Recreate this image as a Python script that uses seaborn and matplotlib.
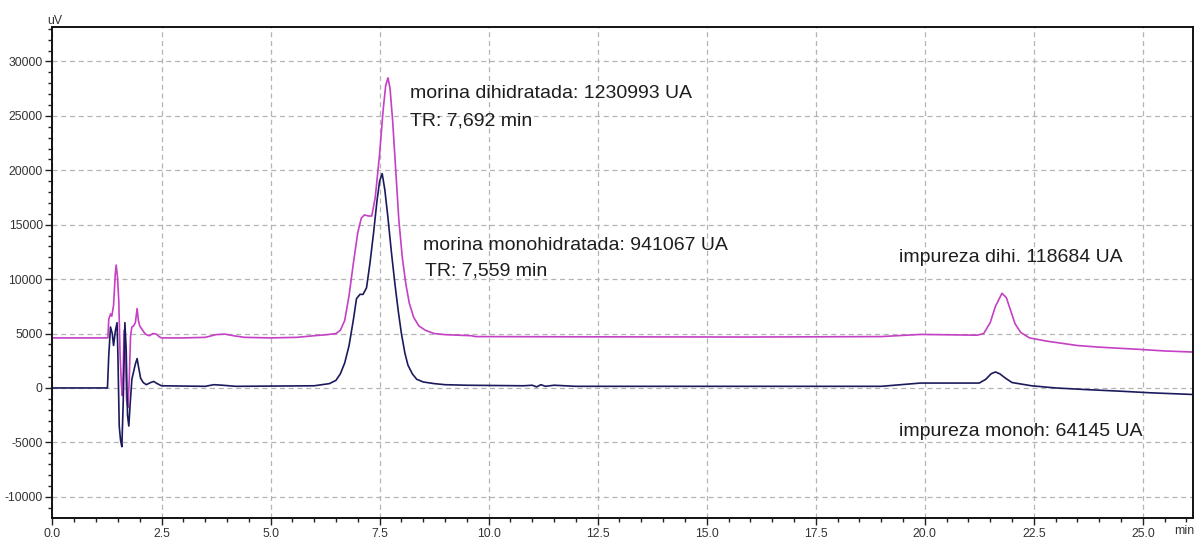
import numpy as np
import pandas as pd
import matplotlib
matplotlib.use("Agg")
import matplotlib.pyplot as plt
from matplotlib.ticker import MultipleLocator, FixedLocator
import seaborn as sns

# Chromatogram traces: retention time (min) and detector signal (uV)
dihidratada_t = [
    0.0, 1.27, 1.29, 1.33, 1.36, 1.40, 1.44, 1.46, 1.49, 1.52, 1.55, 1.58, 1.60,
    1.62, 1.64, 1.67, 1.70, 1.73, 1.76, 1.79, 1.82, 1.86, 1.90, 1.94, 1.97, 2.00,
    2.05, 2.10, 2.15, 2.22, 2.30, 2.38, 2.45, 2.50,
    3.0, 3.5, 3.75, 3.95, 4.15, 4.4, 5.0, 5.6, 6.0, 6.3, 6.5, 6.6, 6.7, 6.8, 6.9,
    7.0, 7.08, 7.15, 7.25, 7.32, 7.40, 7.50, 7.58, 7.64, 7.692, 7.74, 7.80, 7.87,
    7.94, 8.02, 8.10, 8.18, 8.28, 8.40, 8.55, 8.75, 9.0, 9.6, 9.7, 12.0, 16.0,
    19.0, 19.9, 21.2, 21.35, 21.5, 21.62, 21.77, 21.87, 21.97, 22.07, 22.2, 22.4,
    22.8, 23.5, 24.0, 24.9, 25.5, 26.15,
]
dihidratada_uv = [
    4600, 4600, 6300, 6800, 6600, 7600, 10500, 11300, 10200, 8000, 3000, 300, -700,
    1500, 5300, 3000, -1200, -1800, 800, 4800, 5600, 5700, 6000, 7300, 6200, 5700,
    5400, 5100, 4900, 4800, 5000, 4950, 4700, 4600,
    4600, 4650, 4900, 4950, 4800, 4650, 4600, 4650, 4800, 4900, 5000, 5300, 6200, 8500, 11500,
    14300, 15600, 15900, 15800, 15800, 17500, 21500, 25500, 27800, 28500, 27500, 24500, 20000,
    15500, 12000, 9600, 7800, 6500, 5700, 5300, 5000, 4900, 4800, 4720, 4700, 4680,
    4720, 4920, 4850, 5000, 6000, 7500, 8700, 8300, 7100, 5900, 5100, 4600,
    4300, 3900, 3750, 3550, 3400, 3300,
]

monohidratada_t = [
    0.0, 1.26, 1.29, 1.33, 1.37, 1.40, 1.44, 1.48, 1.50, 1.53, 1.56, 1.59, 1.62,
    1.66, 1.69, 1.72, 1.75, 1.78, 1.82, 1.86, 1.90, 1.94, 1.97, 2.02, 2.08, 2.15,
    2.25, 2.32, 2.40, 2.50,
    3.5, 3.7, 3.9, 4.2, 6.0, 6.35, 6.5, 6.6, 6.7, 6.8, 6.9, 6.97, 7.05, 7.12, 7.2,
    7.28, 7.36, 7.44, 7.50, 7.559, 7.62, 7.69, 7.77, 7.85, 7.93, 8.0, 8.08, 8.15,
    8.25, 8.35, 8.5, 8.75, 9.0, 9.5, 10.8, 11.0, 11.1, 11.2, 11.3, 11.5, 12.0,
    19.0, 19.9, 21.25, 21.4, 21.52, 21.62, 21.72, 21.85, 22.0, 22.45, 23.0, 23.7,
    24.5, 25.2, 26.15,
]
monohidratada_uv = [
    0, 0, 3000, 5600, 5000, 3900, 5200, 6000, 3000, -3500, -4800, -5400, -1500,
    6000, 3500, -2500, -3500, -1500, 800, 1500, 2200, 2700, 2000, 900, 500, 300,
    500, 600, 400, 200,
    150, 300, 250, 150, 200, 400, 700, 1300, 2300, 3900, 6300, 8200, 8600, 8600, 9200,
    11500, 14200, 17200, 19000, 19700, 18200, 15700, 12500, 9600, 7000, 5000, 3200, 2100,
    1300, 800, 550, 400, 300, 250, 200, 250, 100, 300, 150, 250, 150,
    150, 450, 450, 800, 1300, 1470, 1300, 900, 500, 200, 0, -150,
    -300, -450, -600,
]

# Peak annotations: (time, signal, text)
label_t = [8.19, 8.19, 8.49, 8.53, 19.40, 19.40]
label_uv = [26600, 24150, 12650, 10350, 11600, -4450]
label_text = [
    "morina dihidratada: 1230993 UA",
    "TR: 7,692 min",
    "morina monohidratada: 941067 UA",
    "TR: 7,559 min",
    "impureza dihi. 118684 UA",
    "impureza monoh: 64145 UA",
]

x_ticks = [0.0, 2.5, 5.0, 7.5, 10.0, 12.5, 15.0, 17.5, 20.0, 22.5, 25.0]
y_ticks = [-10000, -5000, 0, 5000, 10000, 15000, 20000, 25000, 30000]

sns.set_theme(style="white")
plt.rcParams["font.family"] = ["Liberation Sans", "DejaVu Sans"]

W, H = 1195, 539
fig = plt.figure(figsize=(W / 100, H / 100), dpi=100)
ax = fig.add_axes([52.5 / W, (H - 518) / H, (1193 - 52.5) / W, (518 - 27) / H])

dihi = pd.DataFrame({"t": dihidratada_t, "uv": dihidratada_uv})
mono = pd.DataFrame({"t": monohidratada_t, "uv": monohidratada_uv})

sns.lineplot(data=dihi, x="t", y="uv", ax=ax, color="#c440c4", lw=1.2,
             estimator=None, sort=False)
sns.lineplot(data=mono, x="t", y="uv", ax=ax, color="#1b1a5c", lw=1.2,
             estimator=None, sort=False)

ax.set_xlim(0, 26.15)
ax.set_ylim(-11950, 33170)
ax.set_xlabel("")
ax.set_ylabel("")

ax.xaxis.set_major_locator(FixedLocator(x_ticks))
ax.yaxis.set_major_locator(FixedLocator(y_ticks))
ax.set_xticklabels([f"{v:.1f}" for v in x_ticks])
ax.set_yticklabels([f"{v:d}" for v in y_ticks])
ax.xaxis.set_minor_locator(MultipleLocator(0.5))
ax.yaxis.set_minor_locator(MultipleLocator(1000))

ax.tick_params(which="major", direction="out", length=5, width=1, color="#222222",
               labelsize=8.8, labelcolor="#333333", pad=2,
               bottom=True, left=True, top=False, right=False)
ax.tick_params(which="minor", direction="out", length=3, width=1, color="#222222",
               bottom=True, left=True, top=False, right=False)

ax.grid(True, which="major", color="#b4b4b4", linestyle=(0, (4, 3)), linewidth=0.9)
for side in ["left", "right", "top", "bottom"]:
    ax.spines[side].set_visible(True)
    ax.spines[side].set_color("#111111")
    ax.spines[side].set_linewidth(1.4)

for t, v, s in zip(label_t, label_uv, label_text):
    ax.text(t, v, s, ha="left", va="baseline", fontsize=14, color="#1e1e1e")

ax.text(0.002, 1.0, "uV", transform=ax.transAxes, ha="center", va="bottom",
        fontsize=8.8, color="#333333")
ax.text(0.992, -0.026, "min", transform=ax.transAxes, ha="center", va="center",
        fontsize=8.8, color="#333333")

fig.savefig("out.png", dpi=100, facecolor="white")
